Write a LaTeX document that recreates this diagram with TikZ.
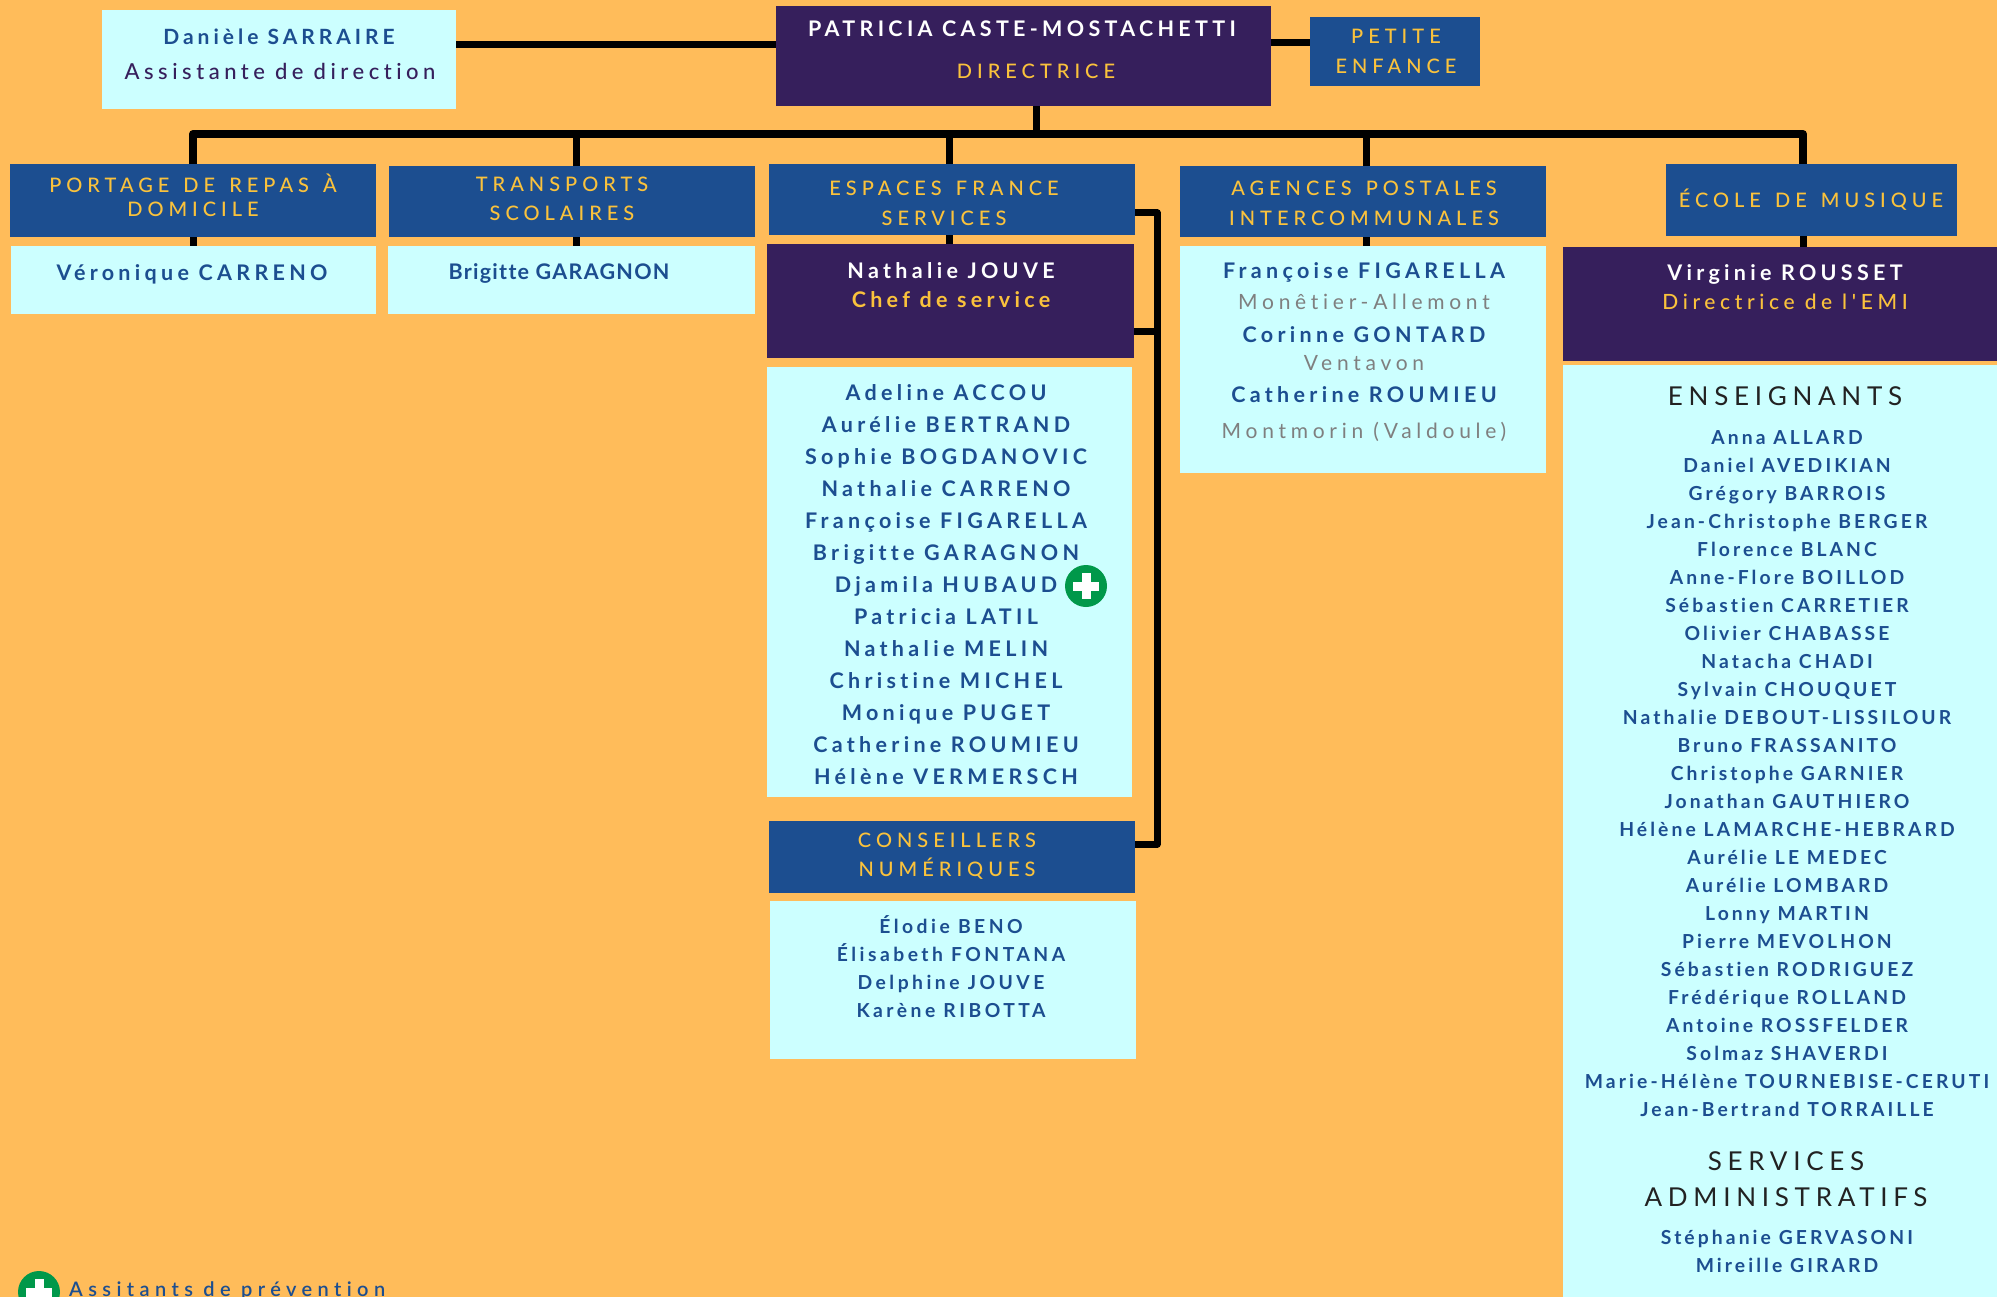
\documentclass[tikz,border=0pt]{standalone}
\usepackage{fontspec}
\defaultfontfeatures{Ligatures=NoCommon}
\setmainfont{Lato}
\newfontfamily\latomed{Lato Medium}
\newfontfamily\latohead[WordSpace=1.4]{Lato Medium}
\newfontfamily\latosemi{Lato Semibold}
\newcommand\spaced[2]{\addfontfeature{LetterSpace=#1}\fontsize{#2}{#2}\selectfont}
\definecolor{pagebg}{HTML}{FFBC5A}
\definecolor{pale}{HTML}{CCFFFF}
\definecolor{navy}{HTML}{1C4E90}
\definecolor{plum}{HTML}{361F5C}
\definecolor{gold}{HTML}{FAC23C}
\definecolor{greyt}{HTML}{7F7F7F}
\definecolor{soft}{HTML}{222222}
\definecolor{cross}{HTML}{00984A}
\tikzset{
  box/.style 2 args={rectangle, inner sep=0, anchor=north west, minimum width=#1pt, minimum height=#2pt},
  bluebox/.style={fill=navy},
  plumbox/.style={fill=plum},
  palebox/.style={fill=pale},
  wire/.style={draw=black, line width=7pt, line join=round},
  head/.style={inner sep=0, text height=14.5pt, text depth=0pt, text=gold, font=\latohead\spaced{25}{20}},
  who/.style={inner sep=0, text height=15pt, text depth=0pt, text=navy, font=\bfseries\spaced{20}{21.5}},
  whosm/.style={inner sep=0, text height=14pt, text depth=0pt, text=navy, font=\bfseries\spaced{16}{19.3}},
  place/.style={inner sep=0, text height=15pt, text depth=0pt, text=greyt, font=\spaced{22.5}{21}},
  sect/.style={inner sep=0, text height=19pt, text depth=0pt, text=soft, font=\spaced{22}{26}},
  crossdot/.style={circle, inner sep=0, minimum size=42pt, fill=cross},
  crossbar/.style 2 args={rectangle, inner sep=0, fill=white, minimum width=#1pt, minimum height=#2pt},
}
\begin{document}
\begin{tikzpicture}[x=1pt,y=-1pt]
\fill[pagebg] (0,0) rectangle (1997,1297);
\useasboundingbox (0,0) rectangle (1997,1297);

% top row
\node[box={354}{99}, palebox] (assistant) at (102,10){};
\node[box={495}{100}, plumbox] (direction) at (776,6){};
\node[box={170}{69}, bluebox] (petite) at (1310,17){};
\node[who, font=\bfseries\spaced{19}{21}] (assistantname) at (279,37){Danièle SARRAIRE};
\node[who, text=plum, font=\latomed\spaced{20.5}{22}] (assistantjob) at (280,72){Assistante de direction};
\node[who, text=white] (directname) at (1022,29){PATRICIA CASTE-MOSTACHETTI};
\node[head] (directjob) at (1036,71){DIRECTRICE};
\node[head] (petite1) at (1396,36){PETITE};
\node[head] (petite2) at (1396,66){ENFANCE};

% services
\node[box={366}{73}, bluebox] (portage) at (10,164){};
\node[box={366}{71}, bluebox] (transports) at (389,166){};
\node[box={366}{71}, bluebox] (espaces) at (769,164){};
\node[box={366}{71}, bluebox] (agences) at (1180,166){};
\node[box={291}{72}, bluebox] (ecole) at (1666,164){};
\node[head] (portage1) at (193,185){PORTAGE DE REPAS À};
\node[head] (portage2) at (193,209){DOMICILE};
\node[head] (transports1) at (562,184){TRANSPORTS};
\node[head] (transports2) at (562,213){SCOLAIRES};
\node[head] (espaces1) at (944,188){ESPACES FRANCE};
\node[head] (espaces2) at (944,218){SERVICES};
\node[head] (agences1) at (1364,188){AGENCES POSTALES};
\node[head] (agences2) at (1364,218){INTERCOMMUNALES};
\node[head] (ecole1) at (1811,200){ÉCOLE DE MUSIQUE};

% portage, transports
\node[box={365}{68}, palebox] (portagep) at (11,246){};
\node[box={367}{68}, palebox] (transportsp) at (388,246){};
\node[who] (portagen) at (192,273){Véronique CARRENO};
\node[who, font=\bfseries\spaced{6}{21.5}] (transportsn) at (559,272){Brigitte GARAGNON};

% espaces france services
\node[box={367}{114}, plumbox] (chef) at (767,244){};
\node[who, text=white] (chefname) at (951,271){Nathalie JOUVE};
\node[who, text=gold] (chefjob) at (951,300){Chef de service};
\node[box={365}{430}, palebox] (agents) at (767,367){};
\foreach \who [count=\k from 0] in {Adeline ACCOU, Aurélie BERTRAND, Sophie BOGDANOVIC, Nathalie CARRENO, Françoise FIGARELLA, Brigitte GARAGNON, Djamila HUBAUD, Patricia LATIL, Nathalie MELIN, Christine MICHEL, Monique PUGET, Catherine ROUMIEU, Hélène VERMERSCH}
  \node[who] (agent\k) at (946,{393+32*\k}){\who};
\node[crossdot] (agentmark) at (1086,586){};
\node[crossbar={26}{9}] (agentmarkh) at (agentmark){};
\node[crossbar={9}{26}] (agentmarkv) at (agentmark){};

% conseillers
\node[box={366}{72}, bluebox] (conseil) at (769,821){};
\node[head] (conseil1) at (947,840){CONSEILLERS};
\node[head] (conseil2) at (947,869){NUMÉRIQUES};
\node[box={366}{158}, palebox] (conseilp) at (770,901){};
\foreach \who [count=\k from 0] in {Élodie BENO, Élisabeth FONTANA, Delphine JOUVE, Karène RIBOTTA}
  \node[whosm, font=\bfseries\spaced{18}{19.3}] (conseil\k) at (951,{926+28*\k}){\who};

% agences
\node[box={366}{227}, palebox] (agencesp) at (1180,246){};
\node[who] (ag1) at (1364,271){Françoise FIGARELLA};
\node[place] (ag1p) at (1364,302){Monêtier-Allemont};
\node[who] (ag2) at (1364,335){Corinne GONTARD};
\node[place] (ag2p) at (1364,363){Ventavon};
\node[who] (ag3) at (1364,395){Catherine ROUMIEU};
\node[place] (ag3p) at (1364,431){Montmorin (Valdoule)};

% ecole
\node[box={434}{114}, plumbox] (emi) at (1563,247){};
\node[who, text=white] (eminame) at (1785,273){Virginie ROUSSET};
\node[who, text=gold, font=\latomed\spaced{22}{21}] (emijob) at (1785,302){Directrice de l'EMI};
\node[box={434}{932}, palebox] (emip) at (1563,365){};
\node[sect] (emisect) at (1785,396){ENSEIGNANTS};
\foreach \who [count=\k from 0] in {Anna ALLARD, Daniel AVEDIKIAN, Grégory BARROIS, Jean-Christophe BERGER, Florence BLANC, Anne-Flore BOILLOD, Sébastien CARRETIER, Olivier CHABASSE, Natacha CHADI, Sylvain CHOUQUET, Nathalie DEBOUT-LISSILOUR, Bruno FRASSANITO, Christophe GARNIER, Jonathan GAUTHIERO, Hélène LAMARCHE-HEBRARD, Aurélie LE MEDEC, Aurélie LOMBARD, Lonny MARTIN, Pierre MEVOLHON, Sébastien RODRIGUEZ, Frédérique ROLLAND, Antoine ROSSFELDER, Solmaz SHAVERDI, Marie-Hélène TOURNEBISE-CERUTI, Jean-Bertrand TORRAILLE}
  \node[whosm] (prof\k) at (1787,{437+28*\k}){\who};
\node[sect] (emisect2) at (1786,1161){SERVICES};
\node[sect] (emisect3) at (1786,1197){ADMINISTRATIFS};
\node[whosm] (admin0) at (1787,1237){Stéphanie GERVASONI};
\node[whosm] (admin1) at (1787,1265){Mireille GIRARD};

% legend
\node[crossdot] (legendmark) at (39,1292){};
\node[crossbar={26}{9}] (legendmarkh) at (legendmark){};
\node[crossbar={9}{26}] (legendmarkv) at (legendmark){};
\node[who, font=\latosemi\spaced{27}{20}, anchor=base west] (legend) at (69,1296){Assitants de prévention};

% connectors
\coordinate (busL) at (193,134);
\coordinate (busM) at (1036,134);
\coordinate (busR) at (1803,134);
\coordinate (busT) at (576,134);
\coordinate (busE) at (949,134);
\coordinate (busA) at (1366,134);
\coordinate (sideT) at (1157,213);
\coordinate (sideB) at (1157,844);
\draw[wire] (assistant.east |- 0,45) -- (direction.west |- 0,45);
\draw[wire] (direction.east |- 0,43) -- (petite.west |- 0,43);
\draw[wire] (direction.south -| busM) -- (busM);
\draw[wire, line width=8pt] (busL |- portage.north) -- (busL) -- (busR) -- (busR |- ecole.north);
\draw[wire] (busT) -- (busT |- transports.north);
\draw[wire] (busE) -- (busE |- espaces.north);
\draw[wire] (busA) -- (busA |- agences.north);
\draw[wire] (busL |- portage.south) -- (busL |- portagep.north);
\draw[wire] (busT |- transports.south) -- (busT |- transportsp.north);
\draw[wire] (busE |- espaces.south) -- (busE |- chef.north);
\draw[wire] (busA |- agences.south) -- (busA |- agencesp.north);
\draw[wire] (busR |- ecole.south) -- (busR |- emi.north);
\draw[wire] (espaces.east |- sideT) -- (sideT) -- (sideB) -- (conseil.east |- sideB);
\draw[wire] (chef.east |- 0,331) -- (sideT |- 0,331);
\end{tikzpicture}
\end{document}
